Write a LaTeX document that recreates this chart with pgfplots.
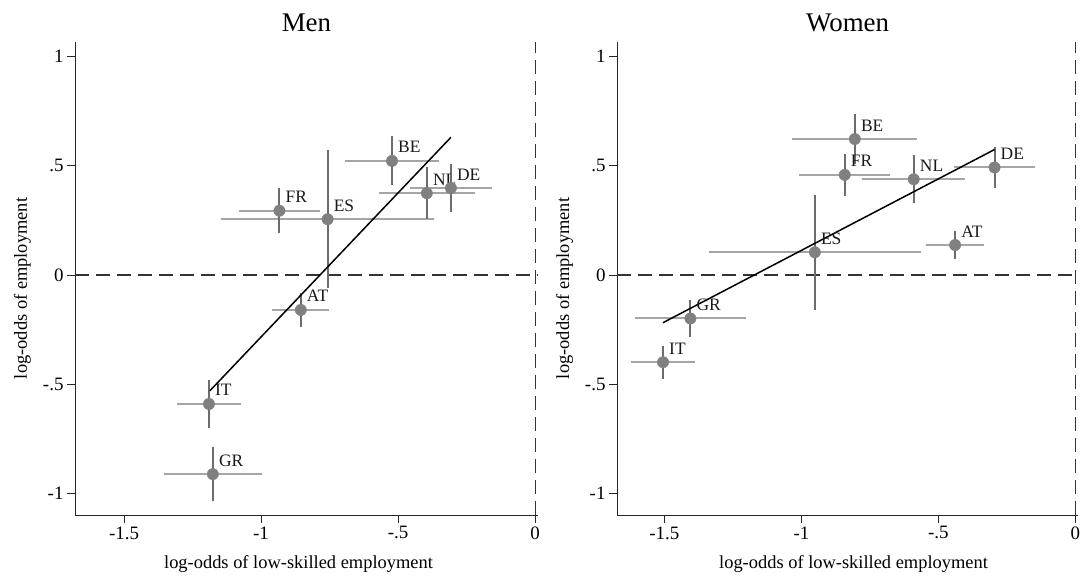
\documentclass[border=0pt]{standalone}
\usepackage{fontspec}
\setmainfont{Liberation Serif}
\usepackage{pgfplots}
\usepackage{pgfplotstable}
\pgfplotsset{compat=1.18}
\definecolor{mk}{RGB}{128,128,128}
\definecolor{hb}{RGB}{165,165,165}
\definecolor{vb}{RGB}{108,108,108}

\pgfplotstableread{
x y ex ey lab
-1.190 -0.590 0.117 0.108 IT
-1.176 -0.911 0.179 0.124 GR
-0.855 -0.160 0.104 0.076 AT
-0.933 0.294 0.149 0.103 FR
-0.757 0.255 0.388 0.316 ES
-0.522 0.522 0.170 0.112 BE
-0.395 0.374 0.174 0.120 NL
-0.307 0.398 0.150 0.112 DE
}\men

\pgfplotstableread{
x y ex ey lab
-0.805 0.622 0.228 0.116 BE
-0.842 0.458 0.166 0.096 FR
-0.590 0.438 0.187 0.109 NL
-0.295 0.492 0.149 0.095 DE
-0.439 0.137 0.105 0.065 AT
-0.951 0.104 0.386 0.263 ES
-1.405 -0.199 0.202 0.084 GR
-1.505 -0.399 0.117 0.076 IT
}\women

\pgfplotsset{
  panel/.style={
    scale only axis, height=473bp,
    axis lines=left, axis line style={-, line width=1bp, black!85},
    tick align=outside, major tick length=8bp,
    tick style={black!85, line width=1bp},
    ymin=-1.098, ymax=1.066, xmax=0.01,
    ytick={-1,-0.5,0,0.5,1}, yticklabels={-1,-.5,0,.5,1},
    xtick={-1.5,-1,-0.5,0}, xticklabels={-1.5,-1,-.5,0},
    ticklabel style={font=\fontsize{19}{21}\selectfont},
    title style={font=\fontsize{27}{30}\selectfont, at={(axis description cs:0.5,1)}, anchor=base, yshift=5bp},
    xlabel={log-odds of low-skilled employment},
    ylabel={log-odds of employment},
    label style={font=\fontsize{18.5}{20}\selectfont},
    xlabel style={anchor=base, yshift=-53bp, inner sep=0pt},
    ylabel style={anchor=south, inner sep=0pt},
  },
  ebx/.style={only marks, mark=none, forget plot,
    error bars/.cd, x dir=both, x explicit, error mark=none,
    error bar style={hb, line width=2bp}},
  eby/.style={only marks, mark=none, forget plot,
    error bars/.cd, y dir=both, y explicit, error mark=none,
    error bar style={vb, line width=2bp}},
  dots/.style={only marks, mark=*, mark size=5.7bp, mk, mark options={draw=mk, fill=mk},
    point meta=explicit symbolic, nodes near coords,
    nodes near coords style={anchor=base west, xshift=6bp, yshift=8bp, black!90, inner sep=0pt,
      font=\fontsize{17.5}{19}\selectfont}},
  refl/.style={black!80, line width=1.1bp, dash pattern=on 14bp off 7bp},
}

\begin{document}
\begin{tikzpicture}
\useasboundingbox (0,0) rectangle (1080bp,576bp);

\begin{axis}[panel, at={(75bp,61bp)}, anchor=south west, width=462.8bp,
  xmin=-1.679, title={Men},
  xlabel style={at={(axis description cs:0.483,0)}},
  ylabel style={at={(axis description cs:-0.095,0.479)}}]
\addplot[refl] coordinates {(-1.679,0) (0.01,0)};
\addplot[refl] coordinates {(0,-1.098) (0,1.066)};
\addplot[ebx] table[x=x, y=y, x error=ex] {\men};
\addplot[eby] table[x=x, y=y, y error=ey] {\men};
\addplot[black, line width=1.5bp] coordinates {(-1.187,-0.530) (-0.307,0.630)};
\addplot[dots] table[x=x, y=y, meta=lab] {\men};
\end{axis}

\begin{axis}[panel, at={(617bp,61bp)}, anchor=south west, width=461.1bp,
  xmin=-1.673, title={Women},
  xlabel style={at={(axis description cs:0.513,0)}},
  ylabel style={at={(axis description cs:-0.095,0.479)}}]
\addplot[refl] coordinates {(-1.673,0) (0.01,0)};
\addplot[refl] coordinates {(0,-1.098) (0,1.066)};
\addplot[ebx] table[x=x, y=y, x error=ex] {\women};
\addplot[eby] table[x=x, y=y, y error=ey] {\women};
\addplot[black, line width=1.5bp] coordinates {(-1.505,-0.218) (-0.295,0.574)};
\addplot[dots] table[x=x, y=y, meta=lab] {\women};
\end{axis}
\end{tikzpicture}
\end{document}
